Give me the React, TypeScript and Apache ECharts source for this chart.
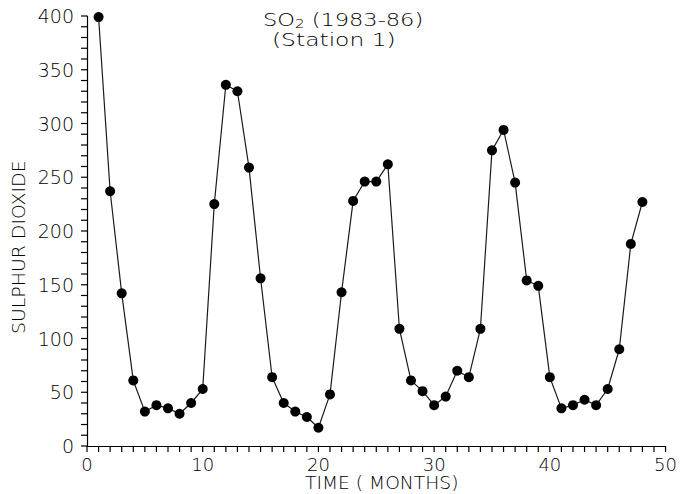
import React, { useEffect, useRef } from "react";
import * as echarts from "echarts";

const months = [
  1, 2, 3, 4, 5, 6, 7, 8, 9, 10, 11, 12, 13, 14, 15, 16, 17, 18, 19, 20, 21, 22, 23, 24,
  25, 26, 27, 28, 29, 30, 31, 32, 33, 34, 35, 36, 37, 38, 39, 40, 41, 42, 43, 44, 45, 46, 47, 48,
];
const so2 = [
  399, 237, 142, 61, 32, 38, 35, 30, 40, 53, 225, 336, 330, 259, 156, 64, 40, 32, 27, 17, 48, 143, 228, 246,
  246, 262, 109, 61, 51, 38, 46, 70, 64, 109, 275, 294, 245, 154, 149, 64, 35, 38, 43, 38, 53, 90, 188, 227,
];
const xTicks = [0, 10, 20, 30, 40, 50];
const yTicks = [0, 50, 100, 150, 200, 250, 300, 350, 400];
const xMinorTicks = [
  0, 1, 2, 3, 4, 5, 6, 7, 8, 9, 10, 11, 12, 13, 14, 15, 16, 17, 18, 19, 20, 21, 22, 23, 24, 25,
  26, 27, 28, 29, 30, 31, 32, 33, 34, 35, 36, 37, 38, 39, 40, 41, 42, 43, 44, 45, 46, 47, 48, 49, 50,
];
const yMinorTicks = [
  0, 10, 20, 30, 40, 50, 60, 70, 80, 90, 100, 110, 120, 130, 140, 150, 160, 170, 180, 190, 200,
  210, 220, 230, 240, 250, 260, 270, 280, 290, 300, 310, 320, 330, 340, 350, 360, 370, 380, 390, 400,
];
const titleLine1 = "(1983-86)";
const titleLine2 = "(Station 1)";
const xName = "TIME ( MONTHS)";
const yName = "SULPHUR DIOXIDE";

const FONT = "DejaVu Sans";
const INK = "#000000";
const TICK_LEN = 6;

export default function App() {
  const ref = useRef<HTMLDivElement>(null);
  useEffect(() => {
    if (!ref.current) return;
    const chart = echarts.init(ref.current, null, { renderer: "svg" });
    const points = months.map((m, i) => [m, so2[i]]);
    chart.setOption({
      animation: false,
      backgroundColor: "#ffffff",
      textStyle: { fontFamily: FONT, color: INK },
      grid: { left: 87, right: 14, top: 16, bottom: 48, containLabel: false },
      graphic: [
        {
          type: "text",
          x: 263,
          y: 10,
          scaleX: 1.25,
          style: {
            text: "{a|SO}{b|2}{a| " + titleLine1 + "}",
            rich: {
              a: { fontFamily: FONT, fontSize: 18, fontWeight: 200, fill: INK },
              b: { fontFamily: FONT, fontSize: 12, fontWeight: 200, fill: INK, padding: [8, 0, 0, 0] },
            },
          },
        },
        {
          type: "text",
          x: 272,
          y: 31,
          scaleX: 1.3,
          style: { text: titleLine2, fontFamily: FONT, fontSize: 18, fontWeight: 200, fill: INK },
        },
        {
          type: "text",
          x: 305,
          y: 474,
          scaleX: 1.1,
          style: { text: xName, fontFamily: FONT, fontSize: 17, fontWeight: 200, fill: INK },
        },
        {
          type: "text",
          x: 10,
          y: 334,
          rotation: Math.PI / 2,
          scaleX: 1.05,
          style: { text: yName, fontFamily: FONT, fontSize: 18, fontWeight: 200, fill: INK },
        },
      ],
      xAxis: {
        type: "value",
        min: xTicks[0],
        max: xTicks[xTicks.length - 1],
        interval: 10,
        splitLine: { show: false },
        axisLine: { show: true, onZero: false, lineStyle: { color: INK, width: 1.2 } },
        axisTick: { show: false },
        minorTick: { show: false },
        axisLabel: { margin: 9, fontFamily: FONT, fontSize: 18, fontWeight: 200, color: INK },
      },
      yAxis: {
        type: "value",
        min: yTicks[0],
        max: yTicks[yTicks.length - 1],
        interval: 50,
        splitLine: { show: false },
        axisLine: { show: true, lineStyle: { color: INK, width: 1.2 } },
        axisTick: { show: false },
        minorTick: { show: false },
        axisLabel: { margin: 13, fontFamily: FONT, fontSize: 19, fontWeight: 200, color: INK },
      },
      series: [
        {
          type: "custom",
          name: "xTicks",
          silent: true,
          clip: false,
          data: xMinorTicks.map((v) => [v, yTicks[0]]),
          encode: { x: 0, y: 1 },
          renderItem: (params: any, api: any) => {
            const p = api.coord([api.value(0), api.value(1)]);
            return {
              type: "line",
              shape: { x1: p[0], y1: p[1], x2: p[0], y2: p[1] + TICK_LEN },
              style: { stroke: INK, lineWidth: 1.2 },
            };
          },
        },
        {
          type: "custom",
          name: "yTicks",
          silent: true,
          clip: false,
          data: yMinorTicks.map((v) => [xTicks[0], v]),
          encode: { x: 0, y: 1 },
          renderItem: (params: any, api: any) => {
            const p = api.coord([api.value(0), api.value(1)]);
            return {
              type: "line",
              shape: { x1: p[0] - TICK_LEN, y1: p[1], x2: p[0], y2: p[1] },
              style: { stroke: INK, lineWidth: 1.2 },
            };
          },
        },
        {
          type: "line",
          data: points,
          symbol: "circle",
          symbolSize: 10,
          showSymbol: true,
          lineStyle: { color: "#1a1a1a", width: 1.2 },
          itemStyle: { color: "#000000" },
          silent: true,
        },
      ],
    });
    return () => chart.dispose();
  }, []);
  return (
    <div
      ref={ref}
      style={{ position: "fixed", left: 0, top: 0, width: 680, height: 494, background: "#fff" }}
    />
  );
}
